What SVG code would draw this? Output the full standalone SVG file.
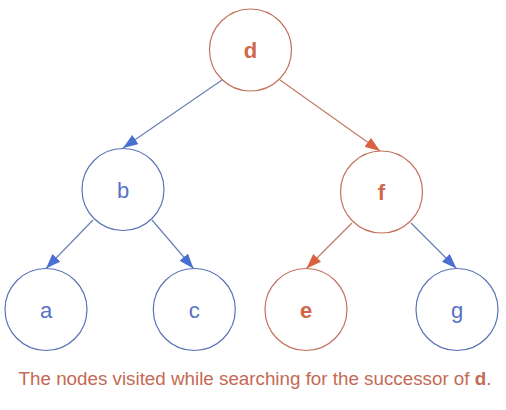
<svg xmlns="http://www.w3.org/2000/svg" width="506" height="410" viewBox="0 0 506 410">
<defs>
<style>
.nb circle{fill:#fff;stroke:#5a72b4;stroke-width:1.2}
.no circle{fill:#fff;stroke:#c2715c;stroke-width:1.2}
text{font-family:"Liberation Sans",Arial,sans-serif;text-anchor:middle}
.nb text{fill:#5873c4;font-size:22px}
.no text{fill:#d0664a;font-size:22px;font-weight:bold}
.eb{stroke:#6a80b4;stroke-width:1.2;fill:none;marker-end:url(#ab)}
.eo{stroke:#c27a68;stroke-width:1.2;fill:none;marker-end:url(#ao)}
.cap{fill:#c46a55;font-size:18.8px}
</style>
<marker id="ab" viewBox="0 0 15 11" refX="15" refY="5.5" markerWidth="15" markerHeight="11" markerUnits="userSpaceOnUse" orient="auto"><path d="M0,0L15,5.5L0,11z" fill="#4a6fd0"/></marker>
<marker id="ao" viewBox="0 0 15 11" refX="15" refY="5.5" markerWidth="15" markerHeight="11" markerUnits="userSpaceOnUse" orient="auto"><path d="M0,0L15,5.5L0,11z" fill="#d9613f"/></marker>
</defs>
<rect width="506" height="410" fill="#fff"/>
<g id="edges">
<path class="eb" d="M222,80L123,148"/>
<path class="eo" d="M280,80L380,151"/>
<path class="eb" d="M93,220L46,268.5"/>
<path class="eb" d="M152,220L193.5,268.5"/>
<path class="eo" d="M352,223L306.5,268.5"/>
<path class="eb" d="M411,223L456.5,268.5"/>
</g>
<g id="d" class="no"><circle cx="250.5" cy="50" r="41"/><text x="250.5" y="58">d</text></g>
<g id="b" class="nb"><circle cx="123" cy="189.5" r="41"/><text x="123" y="197.5">b</text></g>
<g id="f" class="no"><circle cx="381.5" cy="192" r="41"/><text x="381.5" y="200">f</text></g>
<g id="a" class="nb"><circle cx="46" cy="309.5" r="41"/><text x="46" y="317.5">a</text></g>
<g id="c" class="nb"><circle cx="194.3" cy="309.5" r="41"/><text x="194.3" y="317.5">c</text></g>
<g id="e" class="no"><circle cx="306" cy="309.5" r="41"/><text x="306" y="317.5">e</text></g>
<g id="g" class="nb"><circle cx="457" cy="309.5" r="41"/><text x="457" y="317.5">g</text></g>
<text class="cap" x="255" y="385">The nodes visited while searching for the successor of <tspan font-weight="bold">d</tspan>.</text>
</svg>
